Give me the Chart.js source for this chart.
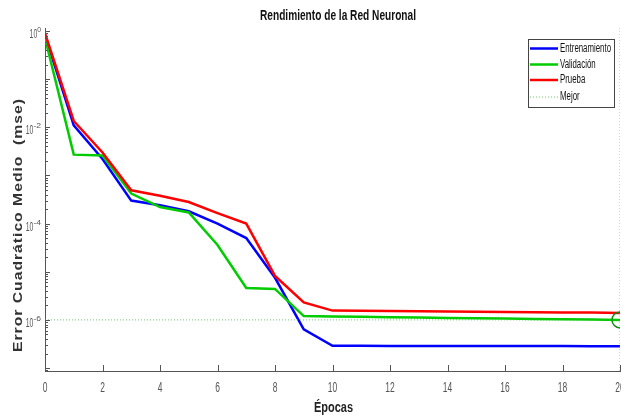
<!DOCTYPE html>
<html>
<head>
<meta charset="utf-8">
<script src="https://cdn.jsdelivr.net/npm/chart.js@4.4.1/dist/chart.umd.min.js"></script>
<style>
  html, body { margin: 0; padding: 0; background: #fff; overflow: hidden; }
  #perf { display: block; }
</style>
</head>
<body>
<canvas id="perf" width="640" height="419"></canvas>
<script>
// Training record (mse per epoch)
const epochs = [0, 1, 2, 3, 4, 5, 6, 7, 8, 9, 10, 11, 12, 13, 14, 15, 16, 17, 18, 19, 20];
const trainMse = [0.83, 0.011, 0.0022, 3.0e-4, 2.4e-4, 1.8e-4, 1.0e-4, 5.0e-5, 7.5e-6, 6.4e-7, 2.9e-7,
    2.9e-7, 2.89e-7, 2.88e-7, 2.88e-7, 2.87e-7, 2.87e-7, 2.86e-7, 2.86e-7, 2.85e-7, 2.85e-7];
const valMse = [0.71, 0.0027, 0.0026, 4.2e-4, 2.2e-4, 1.7e-4, 3.6e-5, 4.6e-6, 4.4e-6, 1.2e-6, 1.18e-6,
    1.16e-6, 1.14e-6, 1.12e-6, 1.1e-6, 1.08e-6, 1.07e-6, 1.05e-6, 1.03e-6, 1.02e-6, 1.0e-6];
const testMse = [0.9, 0.0135, 0.003, 4.9e-4, 3.8e-4, 2.8e-4, 1.65e-4, 1.0e-4, 8.2e-6, 2.3e-6, 1.56e-6,
    1.55e-6, 1.53e-6, 1.51e-6, 1.5e-6, 1.48e-6, 1.46e-6, 1.45e-6, 1.43e-6, 1.42e-6, 1.4e-6];
const seriesNames = ['Entrenamiento', 'Validación', 'Prueba', 'Mejor'];
const bestEpoch = 20;
const bestMse = valMse[bestEpoch];

// Axes
const xTicks = [0, 2, 4, 6, 8, 10, 12, 14, 16, 18, 20];
const yTickValues = [1, 1e-2, 1e-4, 1e-6];
const yTickExps = ['0', '-2', '-4', '-6'];
const yMin = 8.7e-8;
const yMax = 1.15;

const chartTitle = 'Rendimiento de la Red Neuronal';
const yTitle = 'Error Cuadrático Medio  (mse)';
const xTitle = 'Épocas';

const sans = "'Liberation Sans', Arial, sans-serif";
const axisColor = '#555';

const toPoints = arr => arr.map((v, i) => ({ x: epochs[i], y: v }));

// text squeezed (or stretched) horizontally to a given width
function fillSqueezed(ctx, text, x, y, width, align) {
    const w = ctx.measureText(text).width;
    const sx = width / w;
    ctx.save();
    ctx.translate(x, y);
    ctx.scale(sx, 1);
    ctx.textAlign = align;
    ctx.fillText(text, 0, 0);
    ctx.restore();
    return w * sx;
}

// Inward tick marks and tick labels
const axisMarks = {
    id: 'axisMarks',
    afterDraw(chart) {
        const ctx = chart.ctx;
        const xs = chart.scales.x, ys = chart.scales.y;
        ctx.save();
        ctx.strokeStyle = axisColor;
        ctx.lineWidth = 1;
        ctx.beginPath();
        xs.ticks.forEach(t => {
            const px = Math.round(xs.getPixelForValue(t.value)) + 0.5;
            ctx.moveTo(px, ys.bottom);
            ctx.lineTo(px, ys.bottom - 6);
        });
        ys.ticks.forEach(t => {
            const py = Math.round(ys.getPixelForValue(t.value)) + 0.5;
            ctx.moveTo(xs.left, py);
            ctx.lineTo(xs.left + (t.major ? 5 : 3), py);
        });
        ctx.stroke();

        ctx.fillStyle = '#555';
        ctx.textBaseline = 'alphabetic';
        ctx.font = '14px ' + sans;
        xs.ticks.forEach(t => {
            const s = String(t.value);
            fillSqueezed(ctx, s, xs.getPixelForValue(t.value), ys.bottom + 21, s.length * 4.7, 'center');
        });

        // decade labels with raised exponents
        yTickValues.forEach((v, i) => {
            const py = ys.getPixelForValue(v);
            ctx.font = '8px ' + sans;
            const ew = fillSqueezed(ctx, yTickExps[i], 41, py + 1, yTickExps[i].length * 3.8, 'right');
            ctx.font = '12px ' + sans;
            fillSqueezed(ctx, '10', 41 - ew, py + 7, 7.6, 'right');
        });
        ctx.restore();
    }
};

// Titles and boxed legend
const decorations = {
    id: 'decorations',
    afterDraw(chart) {
        const ctx = chart.ctx;
        ctx.save();
        ctx.fillStyle = '#111';
        ctx.textBaseline = 'middle';
        ctx.font = 'bold 14px ' + sans;
        fillSqueezed(ctx, chartTitle, 338, 16, 156, 'center');
        ctx.fillStyle = '#222';
        fillSqueezed(ctx, xTitle, 333.5, 408, 39, 'center');
        ctx.restore();

        ctx.save();
        ctx.translate(18, 225);
        ctx.rotate(-Math.PI / 2);
        ctx.font = 'bold 13px ' + sans;
        ctx.letterSpacing = '0.8px';
        ctx.fillStyle = '#333';
        ctx.textBaseline = 'middle';
        fillSqueezed(ctx, yTitle, 0, 0, 254, 'center');
        ctx.restore();

        const bx = 528, by = 39, bw = 86, bh = 68;
        ctx.save();
        ctx.fillStyle = '#fff';
        ctx.fillRect(bx, by, bw, bh);
        ctx.strokeStyle = '#444';
        ctx.lineWidth = 1;
        ctx.strokeRect(bx + 0.5, by + 0.5, bw, bh);
        ctx.font = '12px ' + sans;
        ctx.textBaseline = 'middle';
        const sq = 51 / ctx.measureText(seriesNames[0]).width;
        const rows = [48.5, 64.5, 80, 97];
        chart.data.datasets.slice(0, 4).forEach((ds, i) => {
            const y = rows[i];
            ctx.beginPath();
            ctx.strokeStyle = ds.borderColor;
            ctx.lineWidth = ds.borderWidth;
            ctx.setLineDash(ds.borderDash || []);
            ctx.moveTo(530, y);
            ctx.lineTo(558, y);
            ctx.stroke();
            ctx.setLineDash([]);
            ctx.fillStyle = '#111';
            fillSqueezed(ctx, ds.label, 560, y, ctx.measureText(ds.label).width * sq, 'left');
        });
        ctx.restore();
    }
};

new Chart(document.getElementById('perf'), {
    type: 'line',
    data: {
        datasets: [
            { label: seriesNames[0], data: toPoints(trainMse), borderColor: '#0000ff', borderWidth: 2.5, order: 3 },
            { label: seriesNames[1], data: toPoints(valMse), borderColor: '#00cc00', borderWidth: 2.5, order: 2 },
            { label: seriesNames[2], data: toPoints(testMse), borderColor: '#ff0000', borderWidth: 2.5, order: 1 },
            { label: seriesNames[3], data: [{ x: epochs[0], y: bestMse }, { x: bestEpoch, y: bestMse }],
              borderColor: 'rgba(60,180,60,0.7)', borderWidth: 1, borderDash: [1, 2], order: 0 },
            { label: 'mejor-v', data: [{ x: bestEpoch, y: yMin }, { x: bestEpoch, y: yMax }],
              borderColor: 'rgba(60,180,60,0.7)', borderWidth: 1, borderDash: [1, 2], order: 0 },
            { label: 'mejor-o', data: [{ x: bestEpoch, y: bestMse }], showLine: false,
              pointRadius: 8, pointBorderWidth: 1.5, pointBorderColor: '#108a10',
              pointBackgroundColor: 'rgba(0,0,0,0)', order: 0 }
        ]
    },
    options: {
        responsive: false,
        animation: false,
        elements: {
            line: { tension: 0 },
            point: { radius: 0 }
        },
        layout: { padding: { left: 0, right: 20, top: 28, bottom: 0 } },
        plugins: {
            legend: { display: false },
            tooltip: { enabled: false },
            title: { display: false }
        },
        scales: {
            x: {
                type: 'linear',
                min: 0,
                max: 20,
                afterBuildTicks: s => { s.ticks = xTicks.map(v => ({ value: v })); },
                afterFit: s => { s.height = 48; },
                grid: { display: false, drawTicks: false },
                border: { display: true, color: axisColor, width: 1 },
                ticks: { display: false }
            },
            y: {
                type: 'logarithmic',
                min: yMin,
                max: yMax,
                afterBuildTicks: s => {
                    const t = [];
                    for (let e = -8; e <= 0; e++) {
                        for (let m = 1; m <= 9; m++) {
                            const v = m * Math.pow(10, e);
                            if (v >= yMin && v <= yMax) t.push({ value: v, major: m === 1 });
                        }
                    }
                    s.ticks = t;
                },
                afterFit: s => { s.width = 45; },
                grid: { display: false, drawTicks: false },
                border: { display: true, color: axisColor, width: 1 },
                ticks: { display: false }
            }
        }
    },
    plugins: [axisMarks, decorations]
});
</script>
</body>
</html>
